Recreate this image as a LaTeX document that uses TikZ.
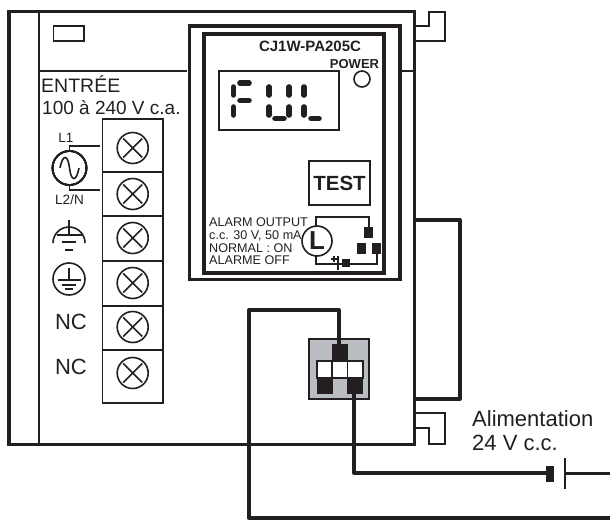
\documentclass[tikz,border=0pt]{standalone}
\usepackage{fontspec}
\setmainfont{Liberation Sans}
\definecolor{inkblk}{HTML}{231F20}
\definecolor{swgray}{HTML}{B9BDC1}
\tikzset{
  txt/.style={inner sep=0pt, text=inkblk, align=left},
  padblk/.style={fill=inkblk, draw=none},
  seg/.style={line width=5.6pt, line cap=round, inkblk},
  wire/.style={line width=3.3pt, inkblk, line join=round},
  thinw/.style={line width=1.6pt, inkblk},
  frame/.style={line width=3.6pt, inkblk}
}
\newcommand{\screwmark}[2]{
    \draw[thinw] (#1,#2) circle(15.5);
    \draw[thinw] (#1-9.5,#2-9.5) -- (#1+9.5,#2+9.5);
    \draw[thinw] (#1-9.5,#2+9.5) -- (#1+9.5,#2-9.5);
}
\begin{document}
\begin{tikzpicture}[x=1pt, y=-1pt]
\useasboundingbox (0,0) rectangle (612,524);
% Housing
    \draw[frame] (9.2,11.7) rectangle (414.3,444.4);
    \draw[line width=2pt, inkblk] (38.5,12) -- (38.5,444);
    \draw[line width=2pt, inkblk] (38.5,71) -- (187,71);
    \draw[line width=2pt, inkblk] (401,71) -- (415,71);
    \draw[thinw] (53.5,26) rectangle (84,41);
% Clips
    \draw[thinw] (416,26) -- (429,26) -- (429,12) -- (445,12) -- (445,41) -- (416,41);
    \draw[thinw] (416,413) -- (445,413) -- (445,444) -- (429,444) -- (429,428) -- (416,428);
% Front panel
    \draw[frame] (189.5,26.3) rectangle (399.7,279.3);
    \draw[frame] (203.8,34) rectangle (384,272.7);
    \node[txt, font=\fontsize{15}{15}\bfseries] (model) at (310,46) {CJ1W-PA205C};
    \node[txt, font=\fontsize{13}{13}\bfseries] (powerlbl) at (354.5,64) {POWER};
    \draw[thinw] (362,79) circle(8);
% Display
    \draw[thinw] (219,71) rectangle (339,130);
    \draw[seg] (233.5,87) -- (233.5,95);
    \draw[seg] (233.5,107) -- (233.5,115);
    \draw[seg] (240,83) -- (249,83);
    \draw[seg] (240,100.5) -- (249,100.5);
    \draw[seg] (269,87) -- (269,95);
    \draw[seg] (269,107) -- (269,115);
    \draw[seg] (289,87) -- (289,95);
    \draw[seg] (289,107) -- (289,115);
    \draw[seg] (275,118.5) -- (284,118.5);
    \draw[seg] (304,87) -- (304,95);
    \draw[seg] (304,107) -- (304,115);
    \draw[seg] (311,118.5) -- (319,118.5);
% Test button
    \node[draw=inkblk, line width=1.6pt, minimum width=61pt, minimum height=44pt, inner sep=0pt, text=inkblk, font=\fontsize{20.5}{20.5}\bfseries] (test) at (339.5,183) {TEST};
% Alarm output
    \node[txt, anchor=west, font=\fontsize{12.6}{12.6}\selectfont] (al1) at (209,222) {ALARM OUTPUT};
    \node[txt, anchor=west, font=\fontsize{12.6}{12.6}\selectfont] (al2) at (209,235.5) {c.c. 30 V, 50 mA};
    \node[txt, anchor=west, font=\fontsize{12.6}{12.6}\selectfont] (al3) at (209,248) {NORMAL : ON};
    \node[txt, anchor=west, font=\fontsize{12.6}{12.6}\selectfont] (al4) at (209,260) {ALARME OFF};
    \draw[thinw] (316,226) -- (316,217) -- (369,217) -- (369,230);
    \draw[thinw] (316,256) -- (316,264) -- (342,264);
    \draw[thinw] (338,256) -- (338,270);
    \draw[thinw] (331,259) -- (337,259);
    \draw[thinw] (334,256) -- (334,262);
    \draw[thinw] (350,264) -- (377,264) -- (377,254);
    \node[circle, draw=inkblk, fill=white, line width=1.6pt, minimum size=30pt, inner sep=0pt, font=\fontsize{26}{26}\bfseries, text=inkblk] (lamp) at (317,241) {L};
    \fill[padblk] (364,227) rectangle (373,238);
    \fill[padblk] (357,243) rectangle (366,254);
    \fill[padblk] (372,243) rectangle (381,254);
    \fill[padblk] (342,259) rectangle (350,267);
% Input texts
    \node[txt, anchor=base west, font=\fontsize{19.5}{19.5}\selectfont] (inlbl) at (41,92.7) {ENTRÉE};
    \node[txt, anchor=base west, font=\fontsize{19}{19}\selectfont] (inrange) at (42,114) {100 à 240 V c.a.};
% Terminal block
    \draw[thinw] (102.5,119) rectangle (163,403);
    \draw[thinw] (102.5,172) -- (163,172);
    \draw[thinw] (102.5,216) -- (163,216);
    \draw[thinw] (102.5,261) -- (163,261);
    \draw[thinw] (102.5,306) -- (163,306);
    \draw[thinw] (102.5,350) -- (163,350);
    \foreach \y in {148,194,238,283,327,373}
        \screwmark{132.7}{\y}
% Line symbols
    \draw[thinw] (69.5,168) circle(17);
    \draw[thinw] (69.5,151) -- (69.5,146) -- (99.5,146);
    \draw[thinw] (69.5,185) -- (69.5,190) -- (99.5,190);
    \draw[thinw] (60,168) .. controls (63,153) and (68,155) .. (69.5,168) .. controls (71,181) and (76,183) .. (79,168);
    \node[txt, font=\fontsize{13.5}{13.5}\selectfont] (l1) at (66,137.5) {L1};
    \node[txt, font=\fontsize{13.5}{13.5}\selectfont] (l2) at (69.5,200) {L2/N};
% Earth symbols
    \draw[thinw] (69,220) -- (69,235);
    \draw[thinw] (53,243) arc(180:360:16);
    \draw[thinw] (57,235) -- (81.5,235);
    \draw[thinw] (62,242) -- (76,242);
    \draw[thinw] (65,250) -- (73,250);
    \draw[thinw] (69,279) circle(16);
    \draw[thinw] (69,268) -- (69,280);
    \draw[thinw] (58,280) -- (81,280);
    \draw[thinw] (62,285) -- (76,285);
    \draw[thinw] (65,289) -- (73,289);
    \node[txt, font=\fontsize{22}{22}\selectfont] (nca) at (71,322) {NC};
    \node[txt, font=\fontsize{22}{22}\selectfont] (ncb) at (71,367) {NC};
% Selector
    \node[draw=inkblk, fill=swgray, line width=1.6pt, minimum size=60pt, inner sep=0pt] (sw) at (339,369) {};
    \fill[white] (317,361) rectangle (363,378);
    \draw[line width=1.5pt, inkblk] (317,361) rectangle (363,378);
    \draw[line width=1.5pt, inkblk] (332,361) -- (332,378);
    \draw[line width=1.5pt, inkblk] (347.5,361) -- (347.5,378);
    \coordinate (padtop) at (339,346);
    \coordinate (padbot) at (354,392);
    \fill[padblk] (332,344) rectangle (348,361);
    \fill[padblk] (317,378) rectangle (333,394);
    \fill[padblk] (347,378) rectangle (363,394);
% Wiring
    \draw[wire] (415,220) -- (460,220) -- (460,399) -- (415,399);
    \coordinate (cella) at (547,473);
    \coordinate (cellb) at (565,473.5);
    \coordinate (enda) at (610,473.5);
    \coordinate (endb) at (610,518);
    \draw[wire] (padtop) -- (339,310) -- (249,310) -- (249,518) -- (endb);
    \draw[wire] (padbot) -- (354,473) -- (cella);
    \fill[padblk] (546,466) rectangle (554,482);
    \draw[thinw] (565,458) -- (565,489);
    \draw[wire] (cellb) -- (enda);
    \node[txt, anchor=base west, font=\fontsize{22}{22}\selectfont] (supa) at (472,426) {Alimentation};
    \node[txt, anchor=base west, font=\fontsize{22}{22}\selectfont] (supb) at (472,450.7) {24 V c.c.};
\end{tikzpicture}
\end{document}
